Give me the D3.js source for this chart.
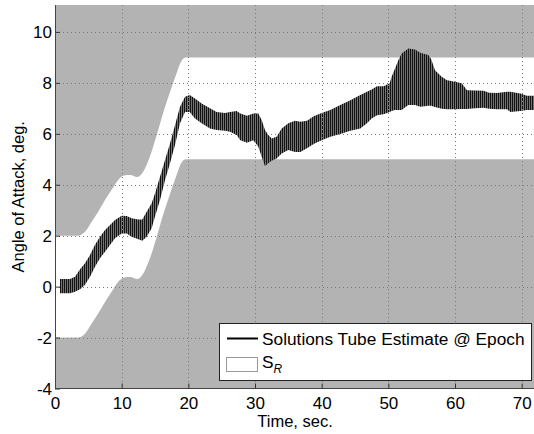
<!DOCTYPE html>
<html>
<head>
<meta charset="utf-8">
<script src="https://cdn.jsdelivr.net/npm/d3@7"></script>
<style>
  html, body { margin: 0; padding: 0; background: #fff; }
  svg { display: block; }
  text { font-family: "Liberation Sans", Arial, sans-serif; fill: #000; }
</style>
</head>
<body>
<svg id="chart" width="534" height="434"></svg>
<script>
// ---- data ----
const xTicks = [0, 10, 20, 30, 40, 50, 60, 70];
const yTicks = [-4, -2, 0, 2, 4, 6, 8, 10];

// Reference region S_R (white band)
const bandTime  = [0, 3.5, 4.5, 5.5, 6.5, 7.5, 8.5, 9.5, 10.5, 11.3, 12.3, 13.2, 14.2, 15.2, 16.2, 17.2, 18.2, 19.0, 19.6, 20, 72];
const bandUpper = [2, 2, 2.15, 2.55, 2.95, 3.4, 3.8, 4.2, 4.37, 4.38, 4.3, 4.5, 5.08, 5.9, 6.8, 7.6, 8.35, 8.88, 9.0, 9.0, 9.0];
const bandLower = [-2, -2, -1.85, -1.45, -1.05, -0.6, -0.2, 0.2, 0.37, 0.38, 0.3, 0.5, 1.08, 1.9, 2.8, 3.6, 4.35, 4.88, 5.0, 5.0, 5.0];

// Solutions tube estimate at epochs
const tubeTime = [0.75, 2.25, 3.0, 3.75, 4.5, 5.25, 6.0, 6.75, 7.5, 8.25, 9.0, 10.0, 10.75, 11.5, 12.5, 13.1, 13.75, 14.5, 15.0, 15.75,
  16.5, 17.25, 18.0, 18.75, 19.5, 20.2, 21.0, 22.0, 23.25, 24.25, 25.5, 26.25, 27.25, 27.8, 28.8, 29.75, 30.5, 31.0, 31.5, 32.0,
  32.5, 33.25, 34.0, 35.0, 36.0, 36.8, 37.8, 38.8, 40.0, 41.3, 42.8, 44.3, 45.8, 46.8, 47.5, 48.3, 49.3, 50.2, 50.5, 51.0,
  51.5, 52.0, 53.0, 54.0, 54.8, 56.0, 56.4, 57.0, 58.0, 58.8, 60.0, 61.0, 61.8, 63.0, 64.3, 65.1, 66.3, 67.8, 68.3, 69.8, 70.8, 72.0];
const tubeHigh = [0.30, 0.30, 0.39, 0.68, 0.92, 1.24, 1.64, 1.96, 2.22, 2.42, 2.62, 2.78, 2.77, 2.68, 2.64, 2.64, 2.94, 3.27, 3.66, 4.31,
  4.97, 5.62, 6.34, 7.06, 7.45, 7.52, 7.39, 7.19, 7.00, 6.86, 6.82, 6.86, 6.90, 6.80, 6.71, 6.80, 6.80, 6.54, 6.15, 5.95,
  5.82, 5.88, 6.21, 6.41, 6.51, 6.47, 6.51, 6.69, 6.82, 6.93, 7.13, 7.32, 7.52, 7.65, 7.74, 7.87, 7.87, 7.98, 8.24, 8.56,
  8.89, 9.15, 9.35, 9.31, 9.18, 9.09, 8.95, 8.50, 8.24, 8.10, 8.04, 7.98, 7.71, 7.70, 7.69, 7.61, 7.60, 7.65, 7.65, 7.58, 7.49, 7.49];
const tubeLow = [-0.26, -0.26, -0.20, -0.10, 0.07, 0.39, 0.78, 1.11, 1.37, 1.63, 1.90, 2.09, 2.09, 1.96, 1.86, 1.80, 1.96, 2.29, 2.75, 3.40,
  4.18, 4.84, 5.56, 6.41, 6.86, 6.86, 6.60, 6.41, 6.21, 6.15, 6.12, 6.08, 5.95, 5.75, 5.65, 5.75, 5.49, 5.10, 4.73, 4.84,
  4.94, 5.03, 5.23, 5.36, 5.29, 5.29, 5.43, 5.60, 5.75, 5.88, 5.99, 6.12, 6.21, 6.41, 6.60, 6.73, 6.77, 6.86, 6.90, 6.93,
  6.93, 6.93, 7.13, 7.13, 7.06, 7.10, 7.10, 7.05, 6.98, 6.96, 6.96, 6.97, 6.97, 7.00, 7.02, 6.98, 6.96, 6.96, 6.86, 6.90, 6.93, 6.93];

const legendLabels = ["Solutions Tube Estimate @ Epoch", "S", "R"];
const xLabel = "Time, sec.";
const yLabel = "Angle of Attack, deg.";

// ---- layout ----
const svg = d3.select("#chart");
const pLeft = 55, pRight = 535, pBottom = 388.5, pTop = 5;
const x = d3.scaleLinear().domain([0, 72]).range([pLeft, pRight]);
const y = d3.scaleLinear().domain([-4, 11]).range([pBottom, pBottom - 15 * 25.47]);

const defs = svg.append("defs");
const pat = defs.append("pattern").attr("id", "hatch")
  .attr("patternUnits", "userSpaceOnUse").attr("width", 2).attr("height", 4);
pat.append("rect").attr("width", 2).attr("height", 4).attr("fill", "#9c9c9c");
pat.append("rect").attr("width", 1.3).attr("height", 4).attr("fill", "#121212");

defs.append("clipPath").attr("id", "plotclip").append("rect")
  .attr("x", pLeft).attr("y", pTop).attr("width", pRight - pLeft).attr("height", pBottom - pTop);

const plot = svg.append("g").attr("clip-path", "url(#plotclip)");

// gray background
plot.append("rect").attr("x", pLeft).attr("y", pTop)
  .attr("width", pRight - pLeft).attr("height", pBottom - pTop).attr("fill", "#b3b3b3");

// white band
const bandData = bandTime.map((t, i) => ({ t, hi: bandUpper[i], lo: bandLower[i] }));
plot.append("path").datum(bandData)
  .attr("d", d3.area().x(d => x(d.t)).y0(d => y(d.lo)).y1(d => y(d.hi)).curve(d3.curveMonotoneX))
  .attr("fill", "#ffffff");

// tube
const tubeData = tubeTime.map((t, i) => ({ t, hi: tubeHigh[i], lo: tubeLow[i] }));
plot.append("path").datum(tubeData)
  .attr("d", d3.area().x(d => x(d.t)).y0(d => y(d.lo)).y1(d => y(d.hi)))
  .attr("fill", "url(#hatch)");

// grid (on top)
const grid = plot.append("g").attr("stroke", "#7a7a7a").attr("stroke-width", 1)
  .attr("stroke-dasharray", "1,3").attr("fill", "none");
xTicks.forEach(v => {
  grid.append("line").attr("x1", Math.round(x(v)) + 0.5).attr("x2", Math.round(x(v)) + 0.5)
    .attr("y1", pTop).attr("y2", pBottom);
});
yTicks.forEach(v => {
  grid.append("line").attr("y1", Math.round(y(v)) + 0.5).attr("y2", Math.round(y(v)) + 0.5)
    .attr("x1", pLeft).attr("x2", pRight);
});

// axes
const fmt = d => String(d);
const xAxis = d3.axisBottom(x).tickValues(xTicks).tickFormat(fmt).tickSizeInner(-5).tickSizeOuter(0).tickPadding(14);
const yAxis = d3.axisLeft(y).tickValues(yTicks).tickFormat(fmt).tickSizeInner(-5).tickSizeOuter(0).tickPadding(8);

const gx = svg.append("g").attr("transform", `translate(0,${pBottom})`).call(xAxis);
const gy = svg.append("g").attr("transform", `translate(${pLeft},0)`).call(yAxis);
[gx, gy].forEach(g => {
  g.select(".domain").remove();
  g.selectAll(".tick line").attr("stroke", "#333");
  g.selectAll("text").style("font-family", '"Liberation Sans", Arial, sans-serif')
    .style("font-size", "17px").attr("fill", "#000");
});
gy.selectAll("text").attr("x", -3).attr("dy", "0.35em");
gx.selectAll("text").attr("dy", "0.71em").attr("y", 8);

// axis lines
svg.append("line").attr("x1", pLeft + 0.5).attr("x2", pLeft + 0.5).attr("y1", pTop).attr("y2", pBottom + 0.5)
  .attr("stroke", "#444");
svg.append("line").attr("x1", pLeft).attr("x2", pRight).attr("y1", pBottom).attr("y2", pBottom)
  .attr("stroke", "#444");

// axis labels
svg.append("text").attr("x", (pLeft + pRight) / 2).attr("y", 427)
  .attr("text-anchor", "middle").style("font-size", "16.5px").text(xLabel);
svg.append("text").attr("transform", `translate(24,${(pTop + pBottom) / 2}) rotate(-90)`)
  .attr("text-anchor", "middle").style("font-size", "16.5px").text(yLabel);

// legend
const lg = svg.append("g");
lg.append("rect").attr("x", 219.5).attr("y", 323.5).attr("width", 312).attr("height", 57)
  .attr("fill", "#fff").attr("stroke", "#222");
lg.append("line").attr("x1", 227).attr("x2", 258).attr("y1", 338.5).attr("y2", 338.5)
  .attr("stroke", "#000").attr("stroke-width", 2);
lg.append("text").attr("x", 262).attr("y", 344.5).style("font-size", "17.3px").text(legendLabels[0]);
lg.append("rect").attr("x", 226.5).attr("y", 357.5).attr("width", 31).attr("height", 14)
  .attr("fill", "#fff").attr("stroke", "#999");
const sr = lg.append("text").attr("x", 262).attr("y", 368).style("font-size", "17.3px");
sr.append("tspan").text(legendLabels[1]);
sr.append("tspan").attr("dy", 5).style("font-size", "12px").style("font-style", "italic").text(legendLabels[2]);
</script>
</body>
</html>
